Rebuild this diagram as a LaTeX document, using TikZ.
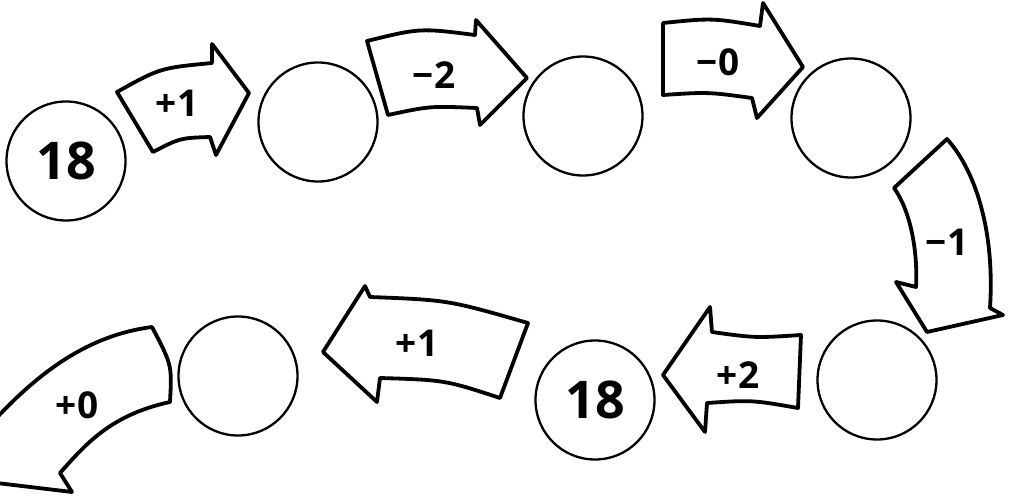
\documentclass[tikz,border=0pt]{standalone}
\usepackage{fontspec}
\setmainfont{Open Sans}

\begin{document}
\begin{tikzpicture}[
        x=1pt, y=-1pt,
        numcircle/.style={circle, draw=black, line width=2.3pt, minimum size=119pt, inner sep=0pt, font=\fontsize{52}{52}\selectfont\bfseries},
        blockarrow/.style={draw=black, line width=3.8pt, line join=round, fill=white},
        steplabel/.style={inner sep=0pt, font=\fontsize{37}{37}\selectfont\bfseries}
    ]
        \useasboundingbox (0,0) rectangle (1013,497);
        \clip (0,0) rectangle (1013,497);

        % Circles
        \node[numcircle] (start) at (66,161) {18};
        \node[numcircle] (second) at (318,122) {};
        \node[numcircle] (third) at (583,116) {};
        \node[numcircle] (fourth) at (851,118) {};
        \node[numcircle] (fifth) at (877,380) {};
        \node[numcircle] (sixth) at (595,400) {18};
        \node[numcircle] (seventh) at (238,376) {};

        % Arrows, top row
        \draw[blockarrow] (117,92) .. controls (160,68) .. (212,63) -- (212,44) -- (249,93) -- (216,155) -- (210,137) .. controls (180,138) .. (153,152) -- cycle;
        \node[steplabel] (plusone) at (177,103) {+1};

        \draw[blockarrow] (367,41) .. controls (420,28) .. (475,35) -- (476,20) -- (527,78) -- (480,125) -- (477,108) .. controls (430,106) .. (388,115) -- cycle;
        \node[steplabel] (minustwo) at (434,75) {−2};

        \draw[blockarrow] (663,23) .. controls (712,18) .. (760,26) -- (763,3) -- (803,67) -- (757,118) -- (752,98) .. controls (708,92) .. (663,95) -- cycle;
        \node[steplabel] (minuszero) at (718,62) {−0};

        % Arrow, right turn
        \draw[blockarrow] (947,139) .. controls (975,170) and (995,230) .. (990,308) -- (1003,315) -- (927,332) -- (896,282) -- (916,287) .. controls (918,250) and (910,210) .. (894,188) -- cycle;
        \node[steplabel] (minusone) at (947,242) {−1};

        % Arrows, bottom row
        \draw[blockarrow] (663,375) -- (710,307) -- (712,332) .. controls (755,338) .. (801,335) -- (798,408) .. controls (752,400) .. (707,403) -- (705,432) -- cycle;
        \node[steplabel] (plustwo) at (738,375) {+2};

        \draw[blockarrow] (323,352) -- (365,286) -- (370,297) .. controls (448,300) .. (528,323) -- (500,398) .. controls (445,380) .. (380,378) -- (377,402) -- cycle;
        \node[steplabel] (plusonelow) at (417,343) {+1};

        \draw[blockarrow] (152,327) .. controls (172,365) .. (170,402) .. controls (110,415) and (85,445) .. (60,473) -- (72,492) -- (-45,478) -- (-25,395) -- (-10,425) .. controls (40,370) and (90,335) .. cycle;
        \node[steplabel] (pluszero) at (77,405) {+0};
    \end{tikzpicture}
\end{document}
